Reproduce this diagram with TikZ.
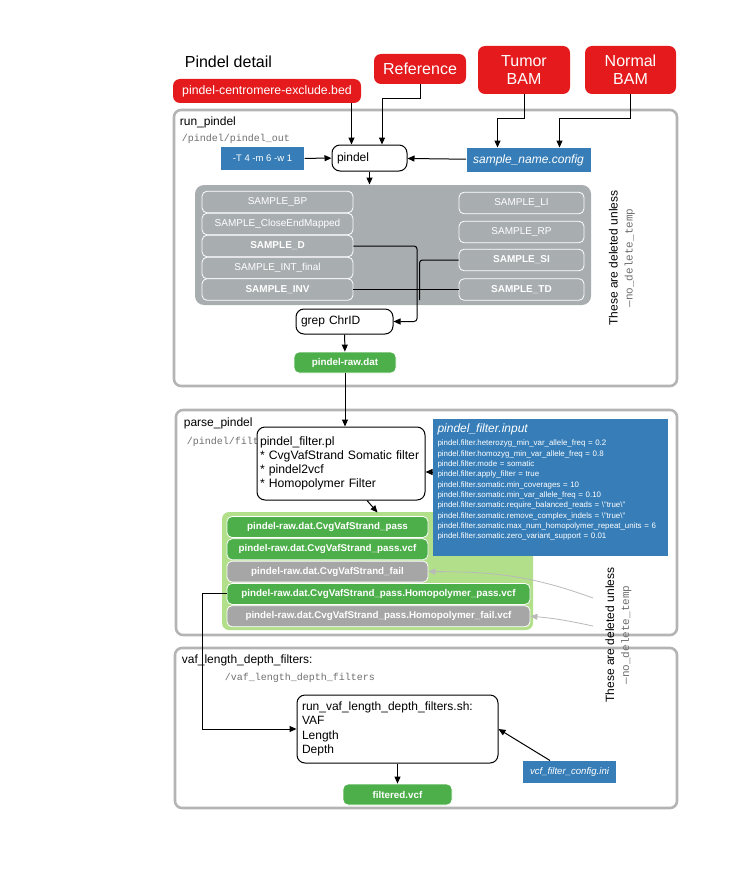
\documentclass[tikz,border=0pt]{standalone}
\usepackage{fontspec}
\setmainfont{Liberation Sans}
\setmonofont{Liberation Mono}
\usetikzlibrary{arrows.meta}

\definecolor{pred}{RGB}{228,26,28}
\definecolor{pblue}{RGB}{55,126,184}
\definecolor{pgreen}{RGB}{77,175,74}
\definecolor{plight}{RGB}{178,223,138}
\definecolor{pgrp}{RGB}{168,173,176}
\definecolor{pfail}{RGB}{166,166,166}
\definecolor{pframe}{RGB}{180,180,180}
\definecolor{ppath}{RGB}{110,110,110}
\definecolor{pcurve}{RGB}{185,185,185}

\tikzset{
  redbox/.style={fill=pred,text=white,rounded corners=7pt,align=center,inner sep=1pt,
    font=\fontsize{16}{18}\selectfont},
  bluebox/.style={fill=pblue,text=white,inner sep=2pt},
  proc/.style={draw,fill=white,rounded corners=8pt,align=left,inner xsep=5pt},
  frame/.style={draw=pframe,line width=2.6pt,rounded corners=7pt},
  sbox/.style={draw=white,fill=pgrp,text=white,rounded corners=5pt,line width=0.8pt,
    minimum height=21.5,font=\fontsize{10}{12}\selectfont},
  sboxb/.style={sbox,font=\fontsize{10}{12}\selectfont\bfseries},
  gbox/.style={draw=white,fill=pgreen,text=white,rounded corners=5pt,line width=0.8pt,
    minimum height=21,font=\fontsize{9.8}{12}\selectfont\bfseries},
  fbox/.style={gbox,fill=pfail},
  pathtxt/.style={anchor=west,text=ppath,font=\fontsize{10}{12}\selectfont\ttfamily},
  keeptxt/.style={rotate=90,align=center,font=\fontsize{12}{15}\selectfont}
}

\begin{document}
\begin{tikzpicture}[x=1pt,y=-1pt,>={Stealth[length=7pt,width=6pt,inset=0pt]},line width=1pt,
    font=\fontsize{12}{14}\selectfont]
  \useasboundingbox (0,0) rectangle (749,880);

  % containers
  \draw[frame] (174,110) rectangle (677,386);
  \draw[frame] (176,410) rectangle (677,635);
  \draw[frame] (175,648) rectangle (677,808);

  \node[anchor=west,font=\fontsize{16}{18}\selectfont] (title) at (181,62) {Pindel detail};

  % inputs
  \node[redbox,minimum width=188,minimum height=24,font=\fontsize{12.3}{14}\selectfont] (bed) at (267,91) {pindel-centromere-exclude.bed};
  \node[redbox,minimum width=92,minimum height=30] (ref) at (420,69) {Reference};
  \node[redbox,minimum width=92,minimum height=48] (tumor) at (524,70) {Tumor\\BAM};
  \node[redbox,minimum width=91,minimum height=48] (normal) at (630.5,70) {Normal\\BAM};

  % run_pindel
  \node[anchor=west] (runlbl) at (176,122) {run\_pindel};
  \node[pathtxt] (runpath) at (178,139) {/pindel/pindel\_out};
  \node[bluebox,minimum width=83,minimum height=23,font=\fontsize{9.5}{11}\selectfont] (opts) at (262.5,158.5) {-T 4 -m 6 -w 1};
  \node[proc,text width=65,minimum height=26] (pindel) at (369.5,158) {pindel};
  \node[bluebox,minimum width=124,minimum height=24,font=\fontsize{12}{14}\selectfont\itshape] (cfg) at (528.5,160) {sample\_name.config};

  \draw[->] (opts) -- (pindel);
  \draw[->] (cfg) -- (pindel);
  \draw[->] ([xshift=-10pt]bed.south east) -- ([xshift=-10pt]bed.south east |- pindel.north);
  \draw[->] (ref.south) -- ++(0,14) -| ([xshift=12.5pt]pindel.north);
  \draw[->] (tumor.south) -- ++(0,24) -| ([xshift=-31pt]cfg.north);
  \draw[->] (normal.south) -- ++(0,24) -| ([xshift=31pt]cfg.north);

  \node[fill=pgrp,rounded corners=9pt,minimum width=396,minimum height=120] (grp) at (393,245) {};
  \draw[->] (pindel.south) -- (pindel.south |- grp.north);

  \foreach \n/\t/\y/\s in {BP/SAMPLE\_BP/202/sbox,CEM/SAMPLE\_CloseEndMapped/224/sbox,
      D/SAMPLE\_D/246/sboxb,INT/SAMPLE\_INT\_final/268/sbox,INV/SAMPLE\_INV/289.5/sboxb}
    \node[\s,minimum width=151] (s\n) at (277.5,\y) {\t};
  \foreach \n/\t/\y/\s in {LI/SAMPLE\_LI/203/sbox,RP/SAMPLE\_RP/232/sbox,
      SI/SAMPLE\_SI/260/sboxb,TD/SAMPLE\_TD/289.5/sboxb}
    \node[\s,minimum width=125] (s\n) at (521.5,\y) {\t};

  \node[proc,text width=87,minimum height=25] (grep) at (344.5,321.5) {grep ChrID};
  \node[gbox,minimum width=102] (raw) at (345,362.5) {pindel-raw.dat};

  \draw[->,rounded corners=3pt] (sD.east) -| (417,321.5) -- (grep.east);
  \draw[rounded corners=3pt] (sSI.west) -| (419.5,300);
  \draw (sINV.east) -- (sTD.west);
  \draw[->] (grep) -- (raw);

  \node[keeptxt] (keep1) at (622,258) {These are deleted unless\\{\ttfamily\color{ppath}\fontsize{11}{15}\selectfont\textemdash no\_delete\_temp}};

  % parse_pindel
  \node[anchor=west] (parselbl) at (180,423) {parse\_pindel};
  \node[pathtxt] (parsepath) at (183,442) {/pindel/filt};
  \node[proc,inner xsep=3pt,text width=162,minimum height=73,font=\fontsize{12.2}{14.2}\selectfont] (fpl) at (341,463.5)
    {pindel\_filter.pl\\{}* CvgVafStrand Somatic filter\\{}* pindel2vcf\\{}* Homopolymer Filter};
  \draw[->] (raw.south) -- (raw.south |- fpl.north);

  \node[fill=plight,rounded corners=7pt,minimum width=311,minimum height=118] (grn) at (377.5,571) {};
  \draw[->] ([xshift=26pt]fpl.south) -- ([yshift=-1pt]grn.north);

  \foreach \n/\t/\y/\w/\s in {
      pass/pindel-raw.dat.CvgVafStrand\_pass/527/201/gbox,
      passvcf/pindel-raw.dat.CvgVafStrand\_pass.vcf/549.3/201/gbox,
      fail/pindel-raw.dat.CvgVafStrand\_fail/571.6/201/fbox,
      hpass/pindel-raw.dat.CvgVafStrand\_pass.Homopolymer\_pass.vcf/593.9/303/gbox,
      hfail/pindel-raw.dat.CvgVafStrand\_pass.Homopolymer\_fail.vcf/616.2/303/fbox}
    \node[\s,minimum width=\w] (f\n) at ({227+\w/2},\y) {\t};

  \node[fill=pblue,minimum width=235,minimum height=137] (inp) at (550.5,487.5) {};
  \node[anchor=north west,text=white,text width=228,align=left,inner sep=0pt,
      font=\fontsize{7.9}{10.3}\selectfont] (inptxt) at (437,423)
    {{\fontsize{12}{14}\selectfont\itshape pindel\_filter.input}\\[3.5pt]
     pindel.filter.heterozyg\_min\_var\_allele\_freq = 0.2\\
     pindel.filter.homozyg\_min\_var\_allele\_freq = 0.8\\
     pindel.filter.mode = somatic\\
     pindel.filter.apply\_filter = true\\
     pindel.filter.somatic.min\_coverages = 10\\
     pindel.filter.somatic.min\_var\_allele\_freq = 0.10\\
     pindel.filter.somatic.require\_balanced\_reads = \textbackslash"true\textbackslash"\\
     pindel.filter.somatic.remove\_complex\_indels = \textbackslash"true\textbackslash"\\
     pindel.filter.somatic.max\_num\_homopolymer\_repeat\_units = 6\\
     pindel.filter.somatic.zero\_variant\_support = 0.01};
  \draw[->] ([yshift=-8.5pt]fpl.east -| inp.west) -- ([yshift=-8.5pt]fpl.east);

  \coordinate (d1) at (593,598);
  \coordinate (d2) at (593,626);
  \draw[->,pcurve,line width=0.8pt] (d1) to[out=160,in=0] (ffail.east);
  \draw[->,pcurve,line width=0.8pt] (d2) to[out=168,in=-5] (fhfail.east);

  \node[keeptxt] (keep2) at (618.5,635) {These are deleted unless\\{\ttfamily\color{ppath}\fontsize{11}{15}\selectfont\textemdash no\_delete\_temp}};

  % vaf_length_depth_filters
  \node[anchor=west] (vaflbl) at (178,660) {vaf\_length\_depth\_filters:};
  \node[pathtxt] (vafpath) at (221,678) {/vaf\_length\_depth\_filters};
  \node[proc,text width=191,minimum height=68,font=\fontsize{12}{14.5}\selectfont] (run) at (397.5,729)
    {run\_vaf\_length\_depth\_filters.sh:\\VAF\\Length\\Depth};
  \node[gbox,minimum width=109] (filt) at (397.5,794.5) {filtered.vcf};
  \node[bluebox,minimum width=93,minimum height=22,font=\fontsize{9.6}{11}\selectfont\itshape] (vcfcfg) at (569.5,772) {vcf\_filter\_config.ini};

  \draw[->] (fhpass.west) -- ++(-24,0) |- (run.west);
  \draw[->] (run) -- (filt);
  \draw[->] ([xshift=-19.5pt]vcfcfg.north) -- (run.east);
\end{tikzpicture}
\end{document}
